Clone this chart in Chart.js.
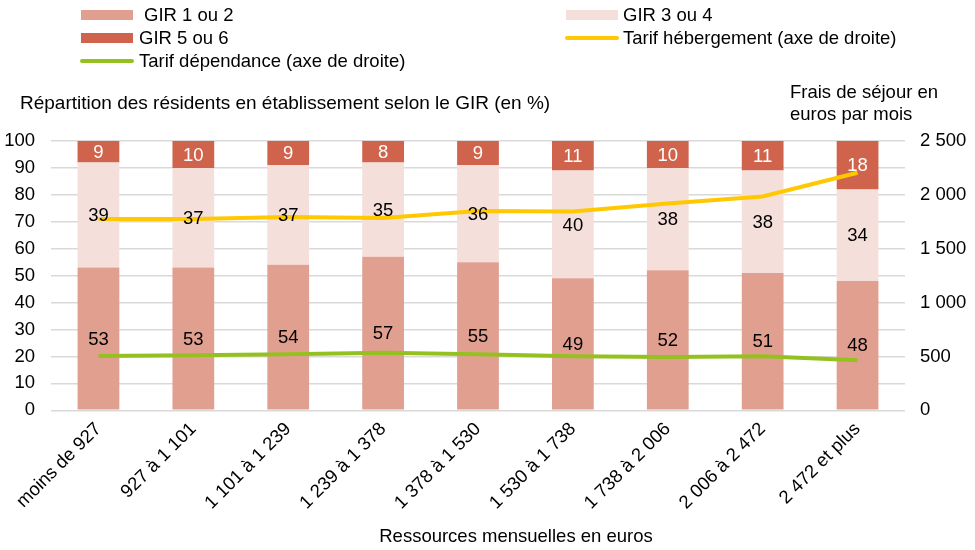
<!DOCTYPE html>
<html>
<head>
<meta charset="utf-8">
<script src="https://cdn.jsdelivr.net/npm/chart.js@4.4.1/dist/chart.umd.min.js"></script>
<style>
  html, body { margin: 0; padding: 0; background: #fff; }
  #wrap { width: 975px; height: 550px; position: relative; }
</style>
</head>
<body>
<div id="wrap"><canvas id="graphique"></canvas></div>
<script>
// donnees
const categories = ['moins de 927', '927 à 1 101', '1 101 à 1 239', '1 239 à 1 378', '1 378 à 1 530',
    '1 530 à 1 738', '1 738 à 2 006', '2 006 à 2 472', '2 472 et plus'];
const gir12 = [53, 53, 54, 57, 55, 49, 52, 51, 48];
const gir34 = [39, 37, 37, 35, 36, 40, 38, 38, 34];
const gir56 = [9, 10, 9, 8, 9, 11, 10, 11, 18];
const tarifHebergement = [1775, 1775, 1795, 1785, 1850, 1845, 1920, 1985, 2205];
const tarifDependance = [505, 510, 520, 535, 520, 502, 495, 502, 465];
const seriesNames = ['GIR 1 ou 2', 'GIR 3 ou 4', 'GIR 5 ou 6', 'Tarif hébergement (axe de droite)', 'Tarif dépendance (axe de droite)'];

const couleurs = {
    gir12: '#e19f90',
    gir34: '#f5dfdb',
    gir56: '#cf634c',
    hebergement: '#ffc800',
    dependance: '#95c120'
};

const FONT = "'Liberation Sans', Arial, sans-serif";
const TAILLE = 18.5;
Chart.defaults.font.family = FONT;
Chart.defaults.font.size = TAILLE;
Chart.defaults.color = '#000';

function formatMilliers(v) {
    return String(v).replace(/\B(?=(\d{3})+(?!\d))/g, ' ');
}

// etiquettes dans les barres
const etiquettesPlugin = {
    id: 'etiquettes',
    afterDatasetsDraw(chart) {
        const ctx = chart.ctx;
        const area = chart.chartArea;
        ctx.save();
        ctx.font = TAILLE + 'px ' + FONT;
        ctx.textAlign = 'center';
        ctx.textBaseline = 'middle';
        chart.data.datasets.forEach(function (ds, i) {
            if (ds.type !== 'bar') return;
            const meta = chart.getDatasetMeta(i);
            meta.data.forEach(function (bar, j) {
                const top = Math.max(bar.y, area.top);
                const bottom = Math.min(bar.base, area.bottom);
                ctx.fillStyle = ds.labelColor;
                ctx.fillText(ds.data[j], bar.x, (top + bottom) / 2 + 1);
            });
        });
        ctx.restore();
    }
};

// legende et titres d'axes
const decorPlugin = {
    id: 'decor',
    afterDraw(chart) {
        const ctx = chart.ctx;
        ctx.save();
        ctx.font = TAILLE + 'px ' + FONT;
        ctx.fillStyle = '#000';
        ctx.textBaseline = 'middle';
        ctx.textAlign = 'left';

        const items = [
            { x: 81, y: 15, kind: 'box', color: couleurs.gir12, tx: 144 },
            { x: 566, y: 15, kind: 'box', color: couleurs.gir34, tx: 623 },
            { x: 81, y: 38, kind: 'box', color: couleurs.gir56, tx: 139 },
            { x: 566, y: 38, kind: 'line', color: couleurs.hebergement, tx: 623 },
            { x: 81, y: 61, kind: 'line', color: couleurs.dependance, tx: 139 }
        ];
        items.forEach(function (it, i) {
            if (it.kind === 'box') {
                ctx.fillStyle = it.color;
                ctx.fillRect(it.x, it.y - 5, 52, 10);
            } else {
                ctx.strokeStyle = it.color;
                ctx.lineWidth = 4;
                ctx.lineCap = 'round';
                ctx.beginPath();
                ctx.moveTo(it.x + 1, it.y);
                ctx.lineTo(it.x + 51, it.y);
                ctx.stroke();
            }
            ctx.fillStyle = '#000';
            ctx.fillText(seriesNames[i], it.tx, it.y + 1);
        });

        ctx.fillText('Frais de séjour en', 790, 93);
        ctx.fillText('euros par mois', 790, 115);
        ctx.textAlign = 'center';
        ctx.fillText('Ressources mensuelles en euros', 516, 537);
        ctx.textAlign = 'left';
        ctx.font = '19px ' + FONT;
        ctx.fillText('Répartition des résidents en établissement selon le GIR (en %)', 20, 104);
        ctx.restore();
    }
};

const ctx = document.getElementById('graphique').getContext('2d');

new Chart(ctx, {
    data: {
        labels: categories,
        datasets: [
            {
                type: 'line',
                label: seriesNames[3],
                data: tarifHebergement,
                yAxisID: 'y1',
                borderColor: couleurs.hebergement,
                borderWidth: 4,
                pointRadius: 0,
                tension: 0,
                order: 0
            },
            {
                type: 'line',
                label: seriesNames[4],
                data: tarifDependance,
                yAxisID: 'y1',
                borderColor: couleurs.dependance,
                borderWidth: 4,
                pointRadius: 0,
                tension: 0,
                order: 0
            },
            {
                type: 'bar',
                label: seriesNames[0],
                data: gir12,
                backgroundColor: couleurs.gir12,
                labelColor: '#000',
                stack: 'gir',
                order: 1
            },
            {
                type: 'bar',
                label: seriesNames[1],
                data: gir34,
                backgroundColor: couleurs.gir34,
                labelColor: '#000',
                stack: 'gir',
                order: 1
            },
            {
                type: 'bar',
                label: seriesNames[2],
                data: gir56,
                backgroundColor: couleurs.gir56,
                labelColor: '#fff',
                stack: 'gir',
                order: 1
            }
        ]
    },
    options: {
        responsive: true,
        maintainAspectRatio: false,
        animation: false,
        barPercentage: 0.44,
        categoryPercentage: 1,
        layout: {
            padding: { top: 141, left: 0, right: 0, bottom: 28 }
        },
        plugins: {
            legend: { display: false },
            tooltip: { enabled: false }
        },
        scales: {
            x: {
                stacked: true,
                grid: { display: false, drawTicks: false },
                border: { display: false },
                ticks: {
                    minRotation: 45,
                    maxRotation: 45,
                    padding: 8
                },
                afterFit: function (scale) {
                    scale.paddingLeft = 0;
                    scale.paddingRight = 0;
                }
            },
            y: {
                stacked: true,
                min: 0,
                max: 100,
                position: 'left',
                grid: { color: '#d9d9d9', lineWidth: 1.5, drawTicks: false },
                border: { display: false },
                ticks: { stepSize: 10, padding: 16 },
                afterFit: function (scale) { scale.width = 51; }
            },
            y1: {
                min: 0,
                max: 2500,
                position: 'right',
                grid: { display: false, drawTicks: false },
                border: { display: false },
                ticks: {
                    stepSize: 500,
                    padding: 15,
                    callback: function (v) { return formatMilliers(v); }
                },
                afterFit: function (scale) { scale.width = 70; }
            }
        }
    },
    plugins: [etiquettesPlugin, decorPlugin]
});
</script>
</body>
</html>
